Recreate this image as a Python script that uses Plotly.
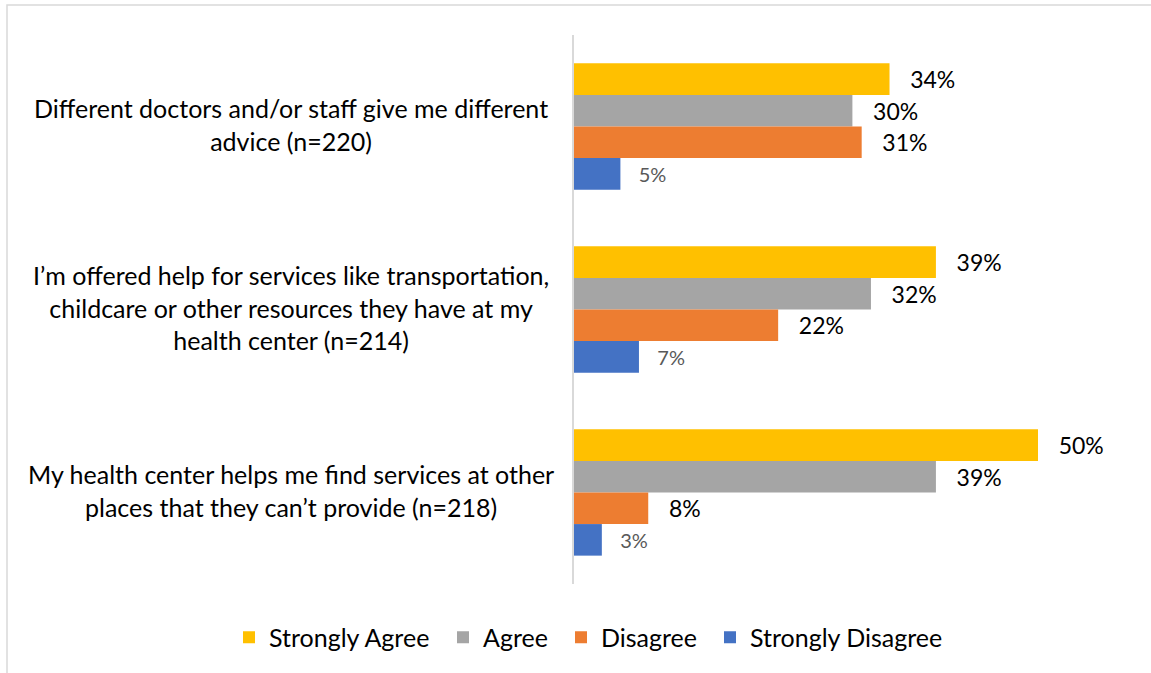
import plotly.graph_objects as go

categories = [
    "Different doctors and/or staff give me different<br>advice (n=220)",
    "I’m offered help for services like transportation,<br>childcare or other resources they have at my<br>health center (n=214)",
    "My health center helps me find services at other<br>places that they can’t provide (n=218)",
]
cat_ids = ["c1", "c2", "c3"]
series = ["Strongly Agree", "Agree", "Disagree", "Strongly Disagree"]
values = {
    "Strongly Agree": [34, 39, 50],
    "Agree": [30, 32, 39],
    "Disagree": [31, 22, 8],
    "Strongly Disagree": [5, 7, 3],
}
colors = {
    "Strongly Agree": "#FFC000",
    "Agree": "#A5A5A5",
    "Disagree": "#ED7D31",
    "Strongly Disagree": "#4472C4",
}
legend_widths = {
    "Strongly Agree": 169,
    "Agree": 73,
    "Disagree": 104,
    "Strongly Disagree": 200,
}

FONT = "Lato"
L, R, T, B = 574, 67, 35, 89
W, H = 1151, 673
pw = W - L - R
ph = H - T - B

fig = go.Figure()
for s in series:
    small = s == "Strongly Disagree"
    fig.add_trace(go.Bar(
        name=s,
        orientation="h",
        y=cat_ids,
        x=values[s],
        marker=dict(color=colors[s], line=dict(width=0)),
        text=["\u00a0\u00a0\u00a0%d%%" % v for v in values[s]],
        textposition="outside",
        constraintext="none",
        cliponaxis=False,
        legendwidth=legend_widths[s],
        textfont=dict(family=FONT, size=20 if small else 23,
                      color="#595959" if small else "#000000"),
    ))

for cid, label in zip(cat_ids, categories):
    fig.add_annotation(
        x=(291 - L) / pw, xref="paper", y=cid, yref="y",
        text=label, showarrow=False, align="center",
        xanchor="center", yanchor="middle", yshift=2,
        font=dict(family=FONT, size=25, color="#000000"),
    )

# outer chart border
fig.add_shape(type="rect", xref="paper", yref="paper",
              x0=(7 - L) / pw, x1=(1170 - L) / pw,
              y0=(ph + T - 690) / ph, y1=1 + (T - 5) / ph,
              line=dict(color="#D9D9D9", width=1.5), layer="below")

fig.update_layout(
    width=W, height=H,
    margin=dict(l=L, r=R, t=T, b=B, autoexpand=False),
    barmode="group",
    bargap=0.31,
    bargroupgap=0,
    plot_bgcolor="white",
    paper_bgcolor="white",
    font=dict(family=FONT, size=25, color="#000000"),
    showlegend=True,
    legend=dict(orientation="h",
                x=(229 - L) / pw, xanchor="left",
                y=(T + ph - 637.5) / ph, yanchor="middle",
                font=dict(family=FONT, size=25, color="#000000"),
                traceorder="normal"),
    xaxis=dict(range=[0, pw / 9.28], showgrid=False, zeroline=False,
               showticklabels=False, showline=False),
    yaxis=dict(autorange="reversed", showticklabels=False, showgrid=False,
               showline=True, linecolor="#D9D9D9", linewidth=1.5,
               ticks=""),
)

fig.write_html("out.html")
